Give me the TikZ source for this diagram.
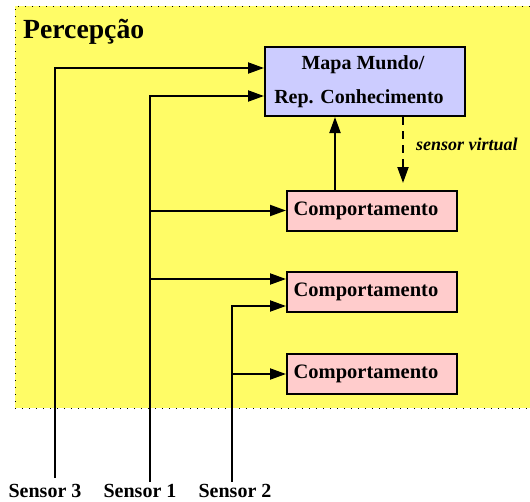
\documentclass[tikz,border=0pt]{standalone}
\usepackage{fontspec}
\setmainfont{Liberation Serif}
\usetikzlibrary{arrows.meta}
\definecolor{bgyellow}{RGB}{255,252,102}
\definecolor{mapblue}{RGB}{204,204,255}
\definecolor{behpink}{RGB}{255,204,204}
\tikzset{
  wire/.style={line width=2pt},
  arr/.style={wire,-{Triangle[length=16pt,width=11pt]}},
  mapbox/.style={draw,line width=2pt,fill=mapblue,minimum width=200pt,minimum height=69pt,align=center,inner sep=0pt,font=\fontsize{20}{34}\selectfont\bfseries},
  behbox/.style={draw,line width=2pt,fill=behpink,minimum width=170pt,minimum height=40pt,inner sep=0pt,font=\fontsize{20.5}{24}\selectfont\bfseries},
  lbl/.style={anchor=base,inner sep=0pt,font=\fontsize{20}{24}\selectfont\bfseries},
}
\begin{document}
\begin{tikzpicture}[x=1pt,y=-1pt]
\useasboundingbox (0,0) rectangle (530,501);
\fill[bgyellow] (15,6) rectangle (530,408);
\draw[line width=1pt,dash pattern=on 1pt off 6pt] (530,6) -- (15,6) -- (15,408) -- (530,408);
\node[anchor=base west,inner sep=0pt,font=\fontsize{27.7}{30}\selectfont\bfseries] (title) at (23,38) {Percepção};
\node[mapbox] (mapa) at (365,81.5) {Mapa Mundo/\kern4pt\\Rep. Conhecimento\kern12pt};
\node[behbox] (b1) at (372,210.5) {Comportamento\kern12pt};
\node[behbox] (b2) at (372,292) {Comportamento\kern12pt};
\node[behbox] (b3) at (372,374) {Comportamento\kern12pt};
\node[lbl] (l3) at (45,497) {Sensor 3};
\node[lbl] (l1) at (140,497) {Sensor 1};
\node[lbl] (l2) at (235,497) {Sensor 2};
\coordinate (s3) at (55,478);
\coordinate (s1) at (150,482);
\coordinate (s2) at (232,482);
\coordinate (y68) at (0,68);
\coordinate (y96) at (0,96);
\coordinate (y279) at (0,279);
\coordinate (y306) at (0,306);
\draw[arr] (s3) |- (mapa.west |- y68);
\draw[arr] (s1) |- (mapa.west |- y96);
\draw[arr] (s1 |- b1.west) -- (b1.west);
\draw[arr] (s1 |- y279) -- (b2.west |- y279);
\draw[arr] (s2) |- (b2.west |- y306);
\draw[arr] (s2 |- b3.west) -- (b3.west);
\coordinate (xu) at (335,0);
\coordinate (xd) at (403,0);
\coordinate (dend) at (403,183);
\draw[arr] (b1.north -| xu) -- (mapa.south -| xu);
\draw[arr,dash pattern=on 8pt off 6pt] (mapa.south -| xd) -- (dend);
\node[anchor=base west,inner sep=0pt,font=\fontsize{18}{20}\selectfont\bfseries\itshape] (sv) at (416,150) {sensor virtual};
\end{tikzpicture}
\end{document}
